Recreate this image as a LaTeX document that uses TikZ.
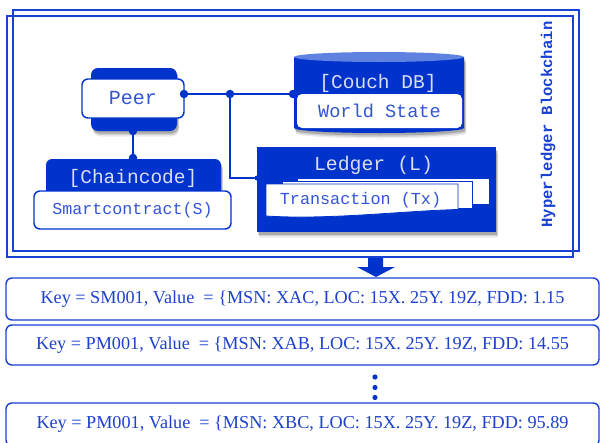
\documentclass[tikz,border=0pt]{standalone}
\usepackage{fontspec}
\setmainfont{Liberation Serif}
\setmonofont{Liberation Mono}
\usetikzlibrary{shadows}

\definecolor{hlblue}{RGB}{0,51,204}
\definecolor{lineblue}{RGB}{25,65,210}
\definecolor{txtblue}{RGB}{50,85,215}
\definecolor{recblue}{RGB}{30,65,205}
\definecolor{capblue}{RGB}{95,130,225}
\definecolor{pale}{RGB}{218,222,240}

\newcommand{\mono}[1]{\fontsize{#1}{#1}\selectfont\ttfamily}

\begin{document}
\begin{tikzpicture}[x=1pt,y=-1pt,
  frame/.style={draw=lineblue, line width=1.4pt},
  wire/.style={draw=hlblue, line width=2.6pt},
  joint/.style={circle, fill=hlblue, inner sep=0pt, minimum size=8.5pt},
  smalljoint/.style={circle, fill=hlblue, inner sep=0pt, minimum size=5pt},
  softshadow/.style={
    drop shadow={shadow xshift=2pt, shadow yshift=-5.5pt, opacity=0.07, fill=black},
    drop shadow={shadow xshift=1.8pt, shadow yshift=-4pt, opacity=0.12, fill=black},
    drop shadow={shadow xshift=1.2pt, shadow yshift=-2.5pt, opacity=0.18, fill=black}},
  backbox/.style={fill=hlblue, rounded corners=7pt, inner sep=0pt, softshadow},
  frontbox/.style={draw=hlblue, fill=white, line width=1.4pt, rounded corners=6pt, inner sep=0pt, text=txtblue},
  pagebox/.style={draw=hlblue, fill=white, line width=0.8pt},
  keybox/.style={draw=lineblue, fill=white, line width=1.4pt, rounded corners=6pt,
    minimum width=593pt, inner sep=0pt, text=recblue, font=\fontsize{18.2}{18.2}\selectfont},
  vdot/.style={circle, fill=hlblue, inner sep=0pt, minimum size=5.2pt}
]
\useasboundingbox (0,0) rectangle (600,442);
\clip (0,0) rectangle (600,442);

% blockchain frames
\draw[frame] (13,10) rectangle (579,251);
\draw[frame] (7,16) rectangle (573,257);
\node[rotate=90, text=lineblue, font=\mono{15.6}\bfseries] (chainlabel) at (548,124.5) {Hyperledger Blockchain};

% peer
\node[backbox, minimum width=86pt, minimum height=63pt] (peerback) at (134,99.5) {};
\node[frontbox, minimum width=102pt, minimum height=39pt, font=\mono{20}] (peer) at (133,98.5) {\raisebox{-1.5pt}{Peer}};

% chaincode
\node[backbox, rounded corners=6pt, minimum width=175pt, minimum height=41pt] (ccback) at (133.5,179.5) {};
\node[text=pale, font=\mono{19.5}] (cclabel) at (133,178.5) {[Chaincode]};
\node[frontbox, minimum width=197pt, minimum height=38pt, font=\mono{16.7}] (smart) at (132.5,210) {Smartcontract(S)};

% couch db cylinder
\path[fill=hlblue, softshadow] (294,57) -- (294,128)
  arc[start angle=180, end angle=0, x radius=85, y radius=5] -- (464,57) -- cycle;
\fill[capblue] (379,57) ellipse[x radius=85, y radius=5];
\node[text=pale, font=\mono{19.5}] (dblabel) at (378,83) {[Couch DB]};
\node[fill=white, rounded corners=5pt, minimum width=165pt, minimum height=34pt, inner sep=0pt,
  text=txtblue, font=\mono{18.6}] (world) at (379.5,111) {World State};

% ledger with stacked transactions
\node[fill=hlblue, minimum width=239pt, minimum height=85pt, inner sep=0pt, softshadow] (ledger) at (376.5,189.5) {};
\node[text=pale, font=\mono{19.8}] (ledgerlabel) at (373.5,165) {Ledger (L)};
\draw[pagebox] (297,178) rectangle (489,204);
\draw[pagebox] (282,181) rectangle (472,208);
\draw[pagebox] (266,184) -- (458,184) -- (458,209.5)
  .. controls (400,211) and (330,220) .. (266,216) -- cycle;
\node[text=txtblue, font=\mono{16.8}] (tx) at (360.5,200.5) {Transaction (Tx)};

% connections
\node[joint] (pj) at (184,94) {};
\node[joint] (mj) at (230,94) {};
\node[joint] (dbj) at (293,94) {};
\node[smalljoint] (lj) at (257,178) {};
\node[joint] (pb) at (133,131) {};
\node[joint] (ct) at (133,158) {};
\draw[wire] (pj) -- (mj) -- (dbj);
\draw[wire] (mj.center) |- (lj.center);
\draw[wire] (pb) -- (ct);

% export arrow
\fill[hlblue] (368,258) -- (383,258) -- (383,267) -- (395,267) -- (376,277) -- (357,267) -- (368,267) -- cycle;

% key/value records
\node[keybox, minimum height=42pt] (rec1) at (302.5,299) {Key = SM001, Value\ \ = \{MSN: XAC, LOC: 15X. 25Y. 19Z, FDD: 1.15};
\node[keybox, minimum height=40pt] (rec2) at (302.5,345) {Key = PM001, Value\ \ = \{MSN: XAB, LOC: 15X. 25Y. 19Z, FDD: 14.55};
\node[vdot] (e1) at (375,377) {};
\node[vdot] (e2) at (375,387.5) {};
\node[vdot] (e3) at (375,397.5) {};
\node[keybox, minimum height=43pt] (rec3) at (302.5,424.5) {Key = PM001, Value\ \ = \{MSN: XBC, LOC: 15X. 25Y. 19Z, FDD: 95.89};
\end{tikzpicture}
\end{document}
